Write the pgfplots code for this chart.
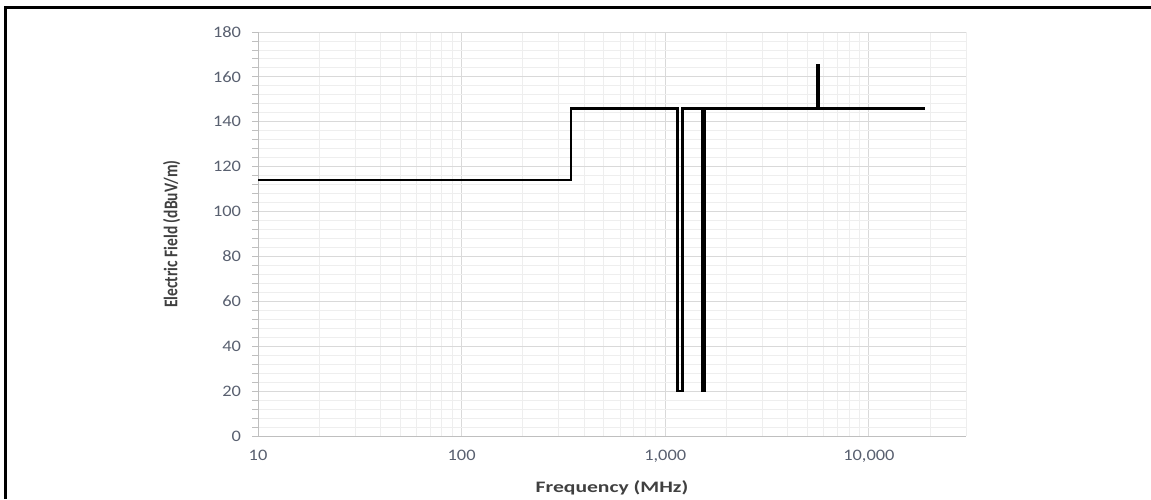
\documentclass[border=0pt]{standalone}
\usepackage{pgfplots}
\pgfplotsset{compat=1.18}
\usepackage{fontspec}
\setmainfont{Carlito}
\definecolor{ticktext}{RGB}{89,96,112}
\definecolor{labeltext}{RGB}{64,64,64}
\definecolor{majgrid}{RGB}{217,217,217}
\definecolor{mingrid}{RGB}{238,238,238}
\definecolor{axisgray}{RGB}{191,191,191}
\begin{document}
\begin{tikzpicture}
  \path[use as bounding box] (-258pt,-63pt) rectangle (893pt,436pt);
  \begin{axis}[
      at={(0pt,0pt)}, anchor=south west, scale only axis,
      width=708pt, height=404pt,
      xmode=log, xmin=10, xmax=30000, ymin=0, ymax=180,
      axis x line*=bottom, axis y line*=left,
      axis line style={axisgray, line width=1pt, -},
      xtick={10,100,1000,10000}, xticklabels={10,100,{1,000},{10,000}},
      minor xtick={20,30,40,50,60,70,80,90,200,300,400,500,600,700,800,900,
        2000,3000,4000,5000,6000,7000,8000,9000,20000,30000},
      ytick={0,20,...,180}, minor y tick num=4,
      grid=both, major grid style={majgrid, line width=0.9pt},
      minor grid style={mingrid, line width=0.9pt},
      tick align=outside,
      x tick style={draw=none},
      y tick style={axisgray, line width=0.9pt},
      major tick length=6pt, minor tick length=6pt,
      /pgf/number format/assume math mode=true,
      tick label style={font=\fontsize{16}{19}\selectfont, text=ticktext, xscale=1.15},
      xticklabel style={yshift=-5pt},
      yticklabel style={xshift=-6pt},
      xlabel={Frequency (MHz)}, ylabel={Electric Field (dBuV/m)},
      xlabel style={font=\fontsize{16}{19}\selectfont\bfseries, text=labeltext, xscale=1.35,
        at={(axis description cs:0.5,0)}, anchor=center, yshift=-52pt},
      ylabel style={font=\fontsize{15.5}{18}\selectfont\bfseries, text=labeltext, yscale=1.25,
        at={(axis description cs:0,0.5)}, anchor=center, yshift=69pt},
    ]
    \addplot[black, line width=2.7pt, no markers, line join=miter] coordinates {
      (10,114) (345,114) (345,146) (1150,146) (1150,20) (1215,20) (1215,146)
      (1530,146) (1530,20) (1560,20) (1560,146) (5600,146) (5600,165) (5660,165)
      (5660,146) (18900,146) };
  \end{axis}
  \draw[black, line width=3pt] (-252.5pt,-63pt) -- (-252.5pt,428.5pt) -- (893pt,428.5pt);
\end{tikzpicture}
\end{document}
